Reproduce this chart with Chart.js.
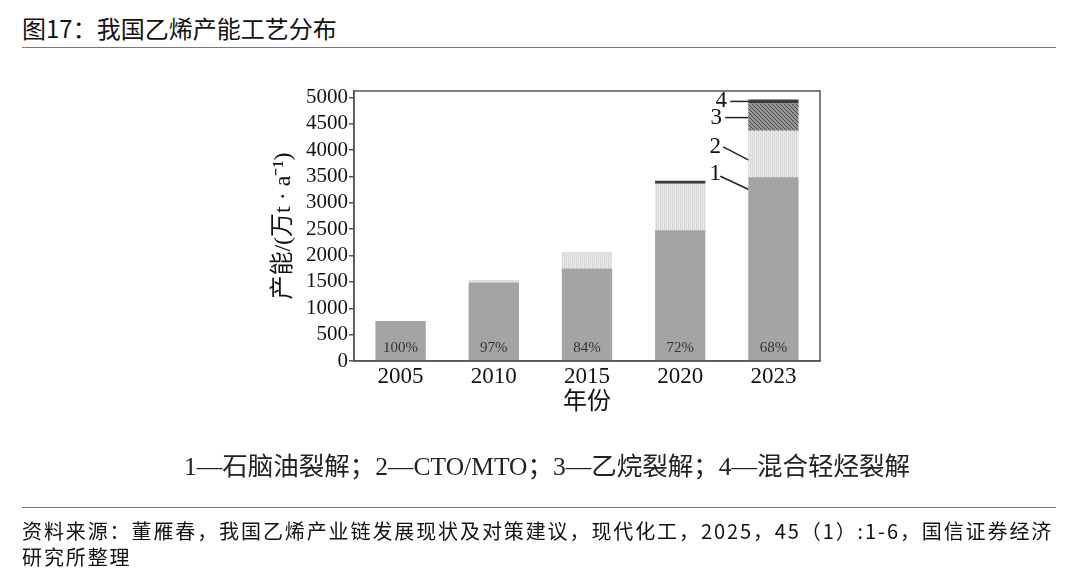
<!DOCTYPE html>
<html>
<head>
<meta charset="utf-8">
<script src="https://cdn.jsdelivr.net/npm/chart.js@4.4.1/dist/chart.umd.min.js"></script>
<style>
  body { margin: 0; background: #fff; width: 1080px; height: 585px; overflow: hidden; position: relative;
         font-family: "Noto Sans CJK SC", sans-serif; color: #111; }
  #title { position: absolute; left: 22px; top: 13px; font-size: 24px; line-height: 30px; }
  .rule { position: absolute; left: 22px; width: 1034px; height: 0; border-top: 1.5px solid #777; }
  #chartBox { position: absolute; left: 0; top: 0; width: 1080px; height: 585px; }
  #legendText { position: absolute; top: 451px; left: 0; width: 1094px; text-align: center;
                font-family: "Liberation Serif", "Noto Sans CJK SC", serif; font-size: 25.5px; line-height: 32px; color: #222; }
  #source { position: absolute; left: 22px; top: 518px; font-size: 20px; line-height: 26px; letter-spacing: 1.9px; }
</style>
</head>
<body>
<div id="title">图17：我国乙烯产能工艺分布</div>
<div class="rule" style="top:47px"></div>
<div id="chartBox"><canvas id="myChart" width="1080" height="585"></canvas></div>
<div id="legendText"></div>
<div class="rule" style="top:507px"></div>
<div id="source">资料来源：董雁春，我国乙烯产业链发展现状及对策建议，现代化工，2025，45（1）:1-6，国信证券经济<br>研究所整理</div>
<script>
const years = ["2005", "2010", "2015", "2020", "2023"];
const naphtha = [760, 1490, 1755, 2480, 3485];
const ctoMto = [0, 45, 315, 880, 880];
const ethane = [0, 0, 0, 0, 520];
const mixedLight = [0, 0, 0, 60, 75];
const naphthaShare = ["100%", "97%", "84%", "72%", "68%"];
const processNames = ["石脑油裂解", "CTO/MTO", "乙烷裂解", "混合轻烃裂解"];
const yTickValues = [0, 500, 1000, 1500, 2000, 2500, 3000, 3500, 4000, 4500, 5000];
const yTitle = "产能/(万t · a⁻¹)";
const xTitle = "年份";

document.getElementById("legendText").textContent =
  processNames.map((n, i) => (i + 1) + "—" + n).join("；");

// small tiled fills for the scanned-print look
function makePattern(bg, fg, kind) {
  const c = document.createElement("canvas");
  c.width = 4; c.height = 4;
  const g = c.getContext("2d");
  g.fillStyle = bg; g.fillRect(0, 0, 4, 4);
  g.fillStyle = fg;
  if (kind === "dots") {
    g.fillRect(0, 0, 1, 1); g.fillRect(0, 2, 1, 1);
    g.fillRect(2, 1, 1, 1); g.fillRect(2, 3, 1, 1);
  } else {
    for (let i = 0; i < 4; i++) g.fillRect(i, i, 1, 1);
  }
  return g.createPattern(c, "repeat");
}

const serif = "'Liberation Serif', 'Noto Sans CJK SC', serif";

const framePlugin = {
  id: "frame",
  afterDraw(chart) {
    const { ctx, chartArea: a } = chart;
    ctx.save();
    ctx.strokeStyle = "#555";
    ctx.lineWidth = 1.5;
    ctx.strokeRect(a.left, a.top, a.right - a.left, a.bottom - a.top);
    ctx.restore();
  },
};

const shareLabels = {
  id: "shareLabels",
  afterDatasetsDraw(chart) {
    const { ctx } = chart;
    const y = chart.scales.y.getPixelForValue(250);
    const meta = chart.getDatasetMeta(0);
    ctx.save();
    ctx.fillStyle = "#333";
    ctx.font = "15px " + serif;
    ctx.textAlign = "center";
    ctx.textBaseline = "middle";
    meta.data.forEach((bar, i) => ctx.fillText(naphthaShare[i], bar.x, y));
    ctx.restore();
  },
};

// numbered leader lines next to the last bar
const callouts = {
  id: "callouts",
  afterDatasetsDraw(chart) {
    const { ctx } = chart;
    const last = years.length - 1;
    // [text dx, text dy, line start dx, line start dy, line end dy]
    const spots = [
      [-33, -3, -28, -1, 12],
      [-33, 16, -25, 16, 29],
      [-32, 0.5, -23, 0.5, 0.5],
      [-27, 0, -18, 0, 0],
    ];
    ctx.save();
    ctx.fillStyle = "#111";
    ctx.strokeStyle = "#222";
    ctx.lineWidth = 1.5;
    ctx.font = "23px " + serif;
    ctx.textAlign = "center";
    ctx.textBaseline = "middle";
    for (let d = 0; d < 4; d++) {
      const bar = chart.getDatasetMeta(d).data[last];
      const left = bar.x - bar.width / 2;
      const top = bar.y;
      const mid = d >= 2 ? (bar.y + bar.base) / 2 : top;
      const s = spots[d];
      ctx.fillText(String(d + 1), left + s[0], mid + s[1]);
      ctx.beginPath();
      ctx.moveTo(left + s[2], mid + s[3]);
      ctx.lineTo(left, mid + s[4]);
      ctx.stroke();
    }
    ctx.restore();
  },
};

document.addEventListener("DOMContentLoaded", () => {
  const ctx = document.getElementById("myChart").getContext("2d");
  const config = {
    type: "bar",
    data: {
      labels: years,
      datasets: [
        { label: processNames[0], data: naphtha, backgroundColor: "#a4a4a4" },
        { label: processNames[1], data: ctoMto, backgroundColor: makePattern("#e9e9e9", "#c6c6c6", "dots") },
        { label: processNames[2], data: ethane, backgroundColor: makePattern("#959595", "#4a4a4a", "hatch") },
        { label: processNames[3], data: mixedLight, backgroundColor: "#3a3a3a" },
      ],
    },
    options: {
      responsive: false,
      animation: false,
      categoryPercentage: 1,
      barPercentage: 0.54,
      layout: { padding: { left: 268, right: 260, top: 91, bottom: 168 } },
      plugins: { legend: { display: false }, tooltip: { enabled: false } },
      scales: {
        x: {
          stacked: true,
          grid: { display: false, drawTicks: false },
          border: { color: "#555", width: 1.5 },
          ticks: { color: "#111", font: { family: serif, size: 23 }, padding: 2 },
          title: { display: true, text: xTitle, color: "#111", font: { family: serif, size: 24 }, padding: { top: 0, bottom: 0 } },
          afterFit: (s) => { s.height = 56; },
        },
        y: {
          stacked: true,
          min: 0,
          max: 5120,
          afterBuildTicks: (s) => { s.ticks = yTickValues.map((v) => ({ value: v })); },
          grid: { drawOnChartArea: false, tickLength: 5, color: "#555", lineWidth: 1.5 },
          border: { color: "#555", width: 1.5 },
          ticks: { color: "#111", font: { family: serif, size: 21 }, padding: 1, autoSkip: false,
                   callback: (v) => String(v) },
          title: { display: true, text: yTitle, color: "#111", font: { family: serif, size: 24 }, padding: { top: 1, bottom: 0 } },
          afterFit: (s) => { s.width = 86; },
        },
      },
    },
    plugins: [framePlugin, shareLabels, callouts],
  };
  new Chart(ctx, config);
});
</script>
</body>
</html>
